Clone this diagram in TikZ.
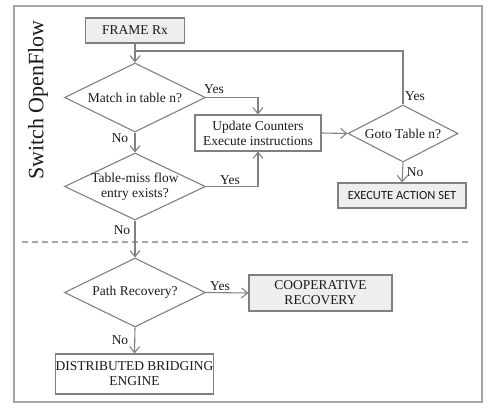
\documentclass[tikz,border=0pt]{standalone}
\usepackage{fontspec}
\setmainfont{Liberation Serif}
\newfontfamily\calib{Carlito}
\usetikzlibrary{shapes.geometric,arrows.meta}
\definecolor{ln}{HTML}{808080}
\definecolor{fr}{HTML}{A6A6A6}
\definecolor{bx}{HTML}{EEEEEE}
\definecolor{tx}{HTML}{1A1A1A}
\begin{document}
\begin{tikzpicture}[x=1pt,y=-1pt,
  every node/.style={text=tx,font=\fontsize{13.5}{15}\selectfont},
  box/.style={draw=ln,line width=1.1pt,rectangle,inner sep=0pt,align=center},
  gbox/.style={box,fill=bx},
  dia/.style={draw=ln,line width=1.1pt,diamond,inner sep=0pt},
  txt/.style={align=center,inner sep=0pt},
  conn/.style={draw=ln,line width=1.1pt},
  arr/.style={conn,-{Straight Barb[length=6pt,width=10pt]}},
  lab/.style={inner sep=0pt}]
\useasboundingbox (0,0) rectangle (498,407);
\draw[fr,line width=1.2pt] (14,6) rectangle (482,402);
\node[lab,rotate=90,font=\fontsize{22}{24}\selectfont] (title) at (38,100) {Switch OpenFlow};
\draw[fr,line width=1.2pt,dash pattern=on 6pt off 4pt] (22,242) -- (471,242);

\node[gbox,minimum width=99pt,minimum height=25pt] (frame) at (135,30.5) {FRAME Rx};
\node[dia,minimum width=141pt,minimum height=69pt] (m) at (135,97.5) {};
\node[txt] (mt) at (m) {Match in table n?};
\node[box,fill=white,minimum width=126pt,minimum height=36pt] (u) at (258,133) {Update Counters\\Execute instructions};
\node[dia,minimum width=110pt,minimum height=57pt] (g) at (403,133.5) {};
\node[txt] (gt) at (g) {Goto Table n?};
\node[gbox,minimum width=128pt,minimum height=25pt,font=\calib\fontsize{12.5}{14}\selectfont] (e) at (402,195.5) {EXECUTE ACTION SET};
\node[dia,minimum width=141pt,minimum height=67pt] (t) at (135,186.5) {};
\node[txt] (tt) at (t) {Table-miss flow\\entry exists?};
\node[dia,minimum width=141pt,minimum height=69pt] (p) at (135,292.5) {};
\node[txt] (pt) at (p) {Path Recovery?};
\node[gbox,minimum width=143pt,minimum height=36pt] (c) at (320.5,293) {COOPERATIVE\\RECOVERY};
\node[box,fill=white,minimum width=157pt,minimum height=40pt] (d) at (134.5,374) {DISTRIBUTED BRIDGING\\ENGINE};

\coordinate (j) at (135,51);
\draw[arr] (frame.south) -- (m.north);
\draw[conn] (g.north) |- (j);
\draw[arr] (m.east) -| (u.north);
\draw[arr] (t.east) -| (u.south);
\draw[arr] (u.east) -- (g.west);
\draw[arr] (g.south) -- (e.north);
\draw[arr] (m.south) -- (t.north);
\draw[arr] (t.south) -- (p.north);
\draw[arr] (p.east) -- (c.west);
\draw[arr] (p.south) -- (d.north);

\node[lab] (y1) at (214,89) {Yes};
\node[lab] (n1) at (120,138) {No};
\node[lab] (y2) at (230,180) {Yes};
\node[lab] (y3) at (415,96) {Yes};
\node[lab] (n3) at (415,172) {No};
\node[lab] (n2) at (122,230) {No};
\node[lab] (y4) at (220,286) {Yes};
\node[lab] (n4) at (120,340) {No};
\end{tikzpicture}
\end{document}
